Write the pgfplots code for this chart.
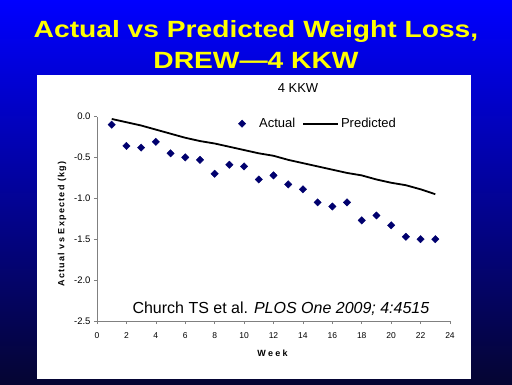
\documentclass[border=0pt]{standalone}
\usepackage{pgfplots}
\pgfplotsset{compat=1.18}
\usepackage{fontspec}
\setmainfont{Liberation Sans}
\definecolor{ttl}{RGB}{255,255,0}
\definecolor{navy}{RGB}{0,0,110}
\definecolor{bgtop}{RGB}{0,0,255}
\definecolor{bgmid}{RGB}{0,0,205}
\definecolor{bgbot}{RGB}{5,5,50}
\pgfplotsset{longline/.style={legend image code/.code={\draw[##1] (0pt,0pt) -- (35pt,0pt);}},
  markimg/.style={legend image code/.code={\path[draw=none] (0pt,0pt) -- (21pt,0pt); \draw[##1, only marks] plot coordinates {(6pt,0pt)};}}}
\begin{document}
\begin{tikzpicture}
\path[use as bounding box] (0pt,0pt) rectangle (512pt,384pt);
\shade[top color=bgtop, middle color=bgmid, bottom color=bgbot] (0pt,0pt) rectangle (512pt,384pt);
\fill[white] (37pt,5pt) rectangle (471pt,309pt);
\node[anchor=base, text=ttl, font=\fontsize{23.5}{27}\selectfont\bfseries] at (256pt,347pt) {\scalebox{1.2}[1]{Actual vs Predicted Weight Loss,}};
\node[anchor=base, text=ttl, font=\fontsize{23.5}{27}\selectfont\bfseries] at (256pt,316pt) {\scalebox{1.2}[1]{DREW—4 KKW}};
\begin{axis}[
  at={(97pt,63pt)}, anchor=south west, scale only axis,
  width=353pt, height=204.5pt,
  xmin=0, xmax=24, ymin=-2.5, ymax=0,
  axis lines*=left,
  axis line style={gray, line width=0.8pt},
  xtick={0,2,...,24}, ytick={-2.5,-2,-1.5,-1,-0.5,0},
  tick align=outside, major tick length=3pt,
  tick style={gray, line width=0.6pt},
  /pgf/number format/assume math mode=true,
  yticklabel style={font=\fontsize{9.5}{10}\selectfont, /pgf/number format/.cd, fixed, fixed zerofill, precision=1},
  xticklabel style={font=\fontsize{8.5}{9}\selectfont, yshift=-5pt},
  legend columns=2,
  legend style={draw=none, fill=none, at={(0.385,0.965)}, anchor=west,
    font=\fontsize{13}{15}\selectfont,
    /tikz/every even column/.append style={column sep=5pt}},
]
\addplot[only marks, mark=square*, mark size=2.6pt, mark options={rotate=45, fill=navy, draw=navy}, markimg] coordinates {
(1,-0.10) (2,-0.36) (3,-0.38) (4,-0.31) (5,-0.45) (6,-0.50) (7,-0.53) (8,-0.70)
(9,-0.59) (10,-0.61) (11,-0.77) (12,-0.72) (13,-0.83) (14,-0.89) (15,-1.05)
(16,-1.10) (17,-1.05) (18,-1.27) (19,-1.21) (20,-1.33) (21,-1.47) (22,-1.50) (23,-1.50)
};
\addlegendentry{Actual}
\addplot[black, line width=1.8pt, no marks, longline] coordinates {
(1,-0.03) (2,-0.07) (3,-0.11) (4,-0.16) (5,-0.21) (6,-0.26) (7,-0.30) (8,-0.33)
(9,-0.37) (10,-0.41) (11,-0.45) (12,-0.48) (13,-0.53) (14,-0.57) (15,-0.61)
(16,-0.65) (17,-0.69) (18,-0.72) (19,-0.77) (20,-0.81) (21,-0.84) (22,-0.89) (23,-0.95)
};
\addlegendentry{Predicted}
\end{axis}
\node[anchor=base, font=\fontsize{13}{15}\selectfont] at (298pt,291pt) {4 KKW};
\node[anchor=base west, font=\fontsize{16}{18}\selectfont] at (129pt,71pt) {Church TS et al. \textit{PLOS One 2009; 4:4515}};
\node[rotate=90, font=\fontsize{9}{10}\selectfont\bfseries] at (62pt,160pt) {\addfontfeature{LetterSpace=14}Actual vs Expected (kg)};
\node[font=\fontsize{9}{10}\selectfont\bfseries] at (272.5pt,31pt) {\addfontfeature{LetterSpace=25}Week};
\end{tikzpicture}
\end{document}
